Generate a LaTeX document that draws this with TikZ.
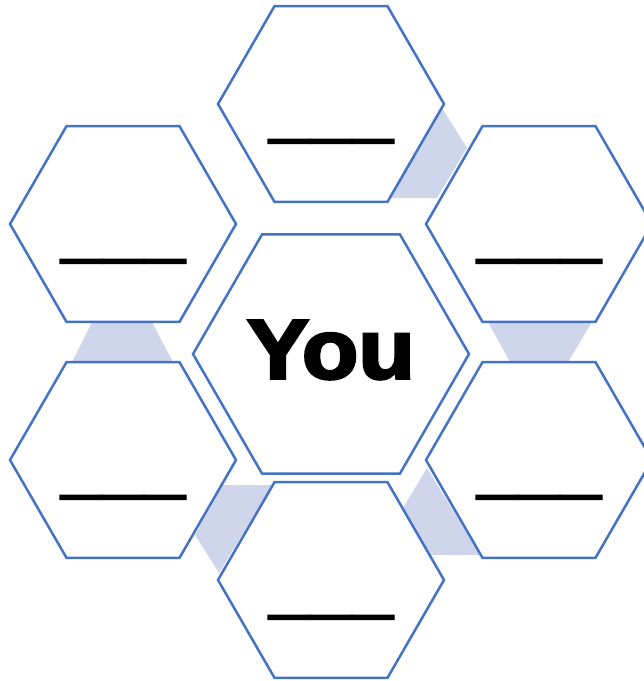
\documentclass[tikz,border=0pt]{standalone}
\usepackage{fontspec}
\setmainfont{Liberation Sans}
\newfontfamily\youfont{Liberation Sans}[BoldFeatures={FakeBold=3.5, FakeStretch=1.1}]
\newfontfamily\blankfont{Liberation Sans}[BoldFeatures={FakeBold=3}]
\usetikzlibrary{shapes.geometric}
\definecolor{hexblue}{HTML}{4472C4}
\definecolor{gapfill}{HTML}{CFD5EA}

\begin{document}
\begin{tikzpicture}[x=1pt, y=-1pt,
  hex/.style={regular polygon, regular polygon sides=6, draw=hexblue,
    line width=2.5pt, fill=white, inner sep=0pt, minimum size=226pt},
  hexbig/.style={hex, minimum size=276pt},
  bigword/.style={font=\youfont\bfseries\fontsize{84}{90}\selectfont, inner sep=0pt},
  blank/.style={font=\blankfont\bfseries\fontsize{42}{48}\selectfont, inner sep=0pt},
  gap/.style={fill=gapfill}]
  \useasboundingbox (0,0) rectangle (644,681);

  % shaded gaps between the outer cells
  \fill[gap] (442,108) -- (467,148) -- (437,198) -- (390,198) -- cycle;
  \fill[gap] (92,322) -- (152,322) -- (173,362) -- (72,362) -- cycle;
  \fill[gap] (488,322) -- (592,322) -- (568,362) -- (510,362) -- cycle;
  \fill[gap] (223,485) -- (272,485) -- (219,573) -- (195,535) -- cycle;
  \fill[gap] (427,468) -- (480,555) -- (430,555) -- (403,508) -- cycle;

  \node[hexbig] (mid) at (331,354) {};
  \node[hex] (top) at (331,104) {};
  \node[hex] (ul) at (123,224) {};
  \node[hex] (ur) at (539,224) {};
  \node[hex] (ll) at (123,460) {};
  \node[hex] (lr) at (539,460) {};
  \node[hex] (bot) at (331,580) {};

  \node[bigword] (you) at ([yshift=4pt]mid.center) {You};

  % blanks to fill in
  \node[blank] (top-line) at ([yshift=-42pt]top.center) {———};
  \node[blank] (ul-line) at ([yshift=-42pt]ul.center) {———};
  \node[blank] (ur-line) at ([yshift=-42pt]ur.center) {———};
  \node[blank] (ll-line) at ([yshift=-42pt]ll.center) {———};
  \node[blank] (lr-line) at ([yshift=-42pt]lr.center) {———};
  \node[blank] (bot-line) at ([yshift=-42pt]bot.center) {———};
\end{tikzpicture}
\end{document}
